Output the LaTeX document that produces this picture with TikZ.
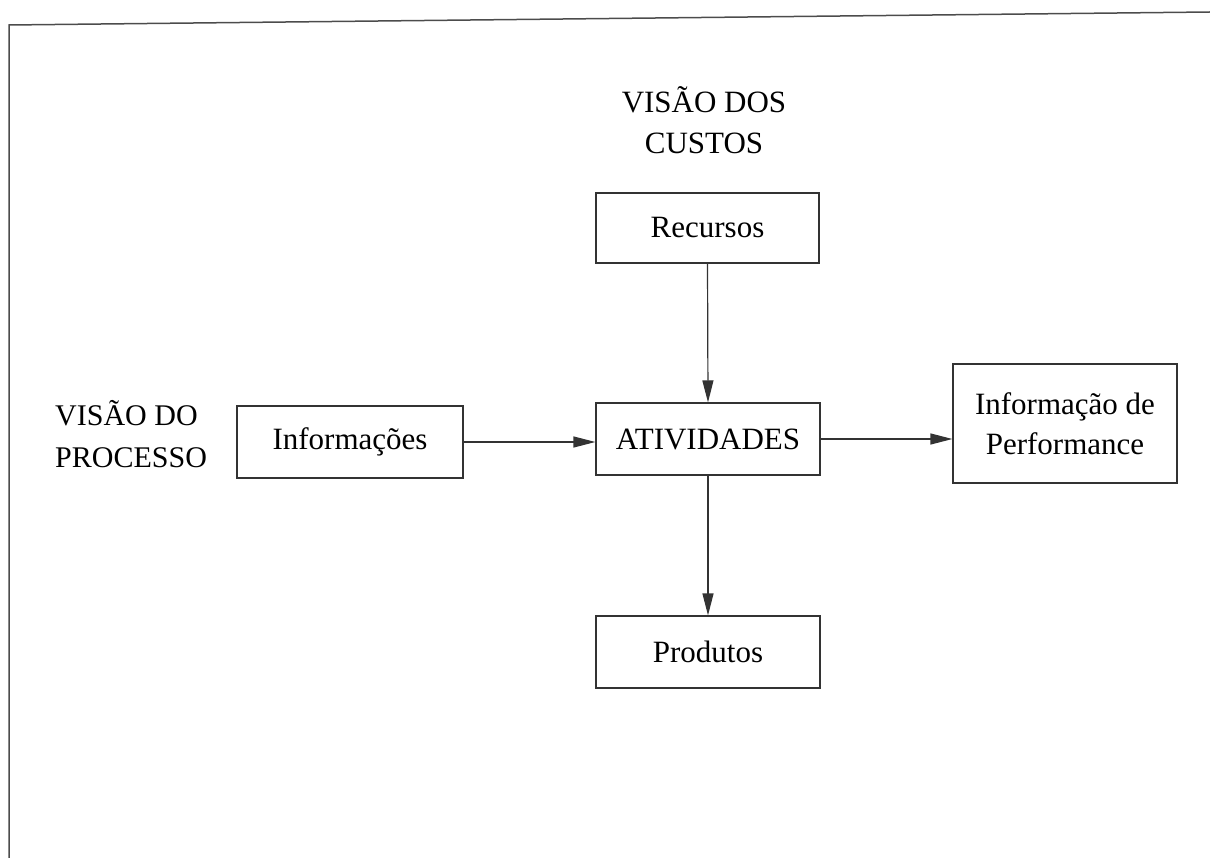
\documentclass[tikz,border=0pt]{standalone}
\usepackage{fontspec}
\setmainfont{Liberation Serif}
\usetikzlibrary{arrows.meta}
\begin{document}
\begin{tikzpicture}[x=1pt,y=-1pt,
  boxnode/.style={draw=black!80,line width=1.2pt,minimum width=224pt,minimum height=72pt,inner sep=0pt,align=center,font=\fontsize{31}{40}\selectfont},
  conn/.style={draw=black!80,line width=1.2pt,-{Triangle[length=22pt,width=11pt]}},
  lbl/.style={font=\fontsize{31}{41}\selectfont,inner sep=0pt}]
\useasboundingbox (0,0) rectangle (1210,858);
\draw[black!70,line width=1.5pt] (9,858) -- (9,25) -- (1210,12);
\node[lbl,align=center] (tc) at (704,120) {VISÃO DOS\\CUSTOS};
\node[lbl,align=left,anchor=west,font=\fontsize{30}{42}\selectfont] (tp) at (55,434) {VISÃO DO\\PROCESSO};
\node[boxnode,minimum width=223pt,minimum height=70pt] (rec) at (707.5,228) {Recursos};
\node[boxnode] (atv) at (708,439) {ATIVIDADES};
\node[boxnode,minimum width=226pt] (inf) at (350,442) {Informações};
\node[boxnode,minimum height=119pt] (perf) at (1065,423.5) {Informação de\\Performance};
\node[boxnode] (prod) at (708,652) {Produtos};
\draw[conn] (rec.south) -- (atv.north);
\draw[conn] (inf.east) -- (inf.east -| atv.west);
\draw[conn] (atv.east) -- (atv.east -| perf.west);
\draw[conn] (atv.south) -- (prod.north);
\end{tikzpicture}
\end{document}
